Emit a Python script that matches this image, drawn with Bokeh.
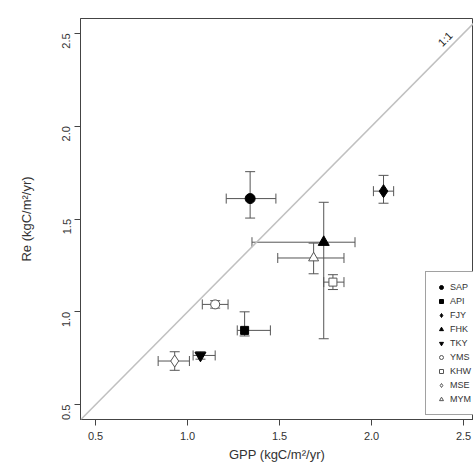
import math
from bokeh.plotting import figure
from bokeh.models import (ColumnDataSource, Whisker, TeeHead, Slope, Label,
                          FixedTicker, Legend, LegendItem, Range1d,
                          NumeralTickFormatter)
from bokeh.embed import file_html
from bokeh.resources import INLINE

sites = ["SAP", "API", "FJY", "FHK", "TKY", "YMS", "KHW", "MSE", "MYM"]
gpp = [1.34, 1.31, 2.065, 1.74, 1.07, 1.15, 1.79, 0.93, 1.685]
re = [1.61, 0.90, 1.65, 1.375, 0.765, 1.04, 1.16, 0.735, 1.29]
gpp_lo = [1.21, 1.27, 2.01, 1.35, 1.03, 1.08, 1.74, 0.84, 1.49]
gpp_hi = [1.48, 1.45, 2.12, 1.91, 1.15, 1.22, 1.85, 1.01, 1.85]
re_lo = [1.505, 0.87, 1.585, 0.855, 0.745, 1.02, 1.12, 0.685, 1.205]
re_hi = [1.755, 1.00, 1.735, 1.59, 0.785, 1.06, 1.20, 0.785, 1.37]
markers = ["circle", "square", "diamond", "triangle", "inverted_triangle",
           "circle", "square", "diamond", "triangle"]
filled = [True, True, True, True, True, False, False, False, False]
sizes = [10, 8, 13, 11, 11, 9, 8, 12, 10]
ticks = [0.5, 1.0, 1.5, 2.0, 2.5]

FONT = "Liberation Sans"

p = figure(width=473, height=473, output_backend="svg", toolbar_location=None,
           x_range=Range1d(0.418, 2.554), y_range=Range1d(0.42, 2.58),
           min_border_left=80, min_border_right=0, min_border_top=18,
           min_border_bottom=54)
p.grid.visible = False
p.outline_line_color = "#444444"
p.outline_line_width = 1

for ax in (p.xaxis[0], p.yaxis[0]):
    ax.ticker = FixedTicker(ticks=ticks)
    ax.formatter = NumeralTickFormatter(format="0.0")
    ax.minor_tick_line_color = None
    ax.major_tick_out = 6
    ax.major_tick_in = 0
    ax.axis_line_color = "#444444"
    ax.major_tick_line_color = "#444444"
    ax.major_label_text_font = FONT
    ax.major_label_text_font_size = "11px"
    ax.major_label_text_color = "#333333"
    ax.axis_label_text_font = FONT
    ax.axis_label_text_font_size = "13px"
    ax.axis_label_text_font_style = "normal"
    ax.axis_label_text_color = "#333333"

p.xaxis[0].axis_label = "GPP (kgC/m²/yr)"
p.yaxis[0].axis_label = "Re (kgC/m²/yr)"
p.yaxis[0].major_label_orientation = math.pi / 2
p.xaxis[0].major_label_standoff = 6
p.xaxis[0].axis_label_standoff = 4
p.yaxis[0].major_label_standoff = 8
p.yaxis[0].axis_label_standoff = 22

p.add_layout(Slope(gradient=1, y_intercept=0, line_color="#c0c0c0", line_width=1.5))
p.add_layout(Label(x=2.40, y=2.47, text="1:1", angle=math.pi / 4,
                   text_font=FONT, text_font_size="11px", text_color="#222222",
                   text_align="center", text_baseline="middle"))

src = ColumnDataSource(dict(site=sites, gpp=gpp, re=re, gpp_lo=gpp_lo,
                            gpp_hi=gpp_hi, re_lo=re_lo, re_hi=re_hi))
ecol = "#555555"
p.add_layout(Whisker(source=src, base="gpp", lower="re_lo", upper="re_hi",
                     dimension="height", level="underlay",
                     line_color=ecol, line_width=1,
                     lower_head=TeeHead(size=10, line_color=ecol, line_width=1),
                     upper_head=TeeHead(size=10, line_color=ecol, line_width=1)))
p.add_layout(Whisker(source=src, base="re", lower="gpp_lo", upper="gpp_hi",
                     dimension="width", level="underlay",
                     line_color=ecol, line_width=1,
                     lower_head=TeeHead(size=10, line_color=ecol, line_width=1),
                     upper_head=TeeHead(size=10, line_color=ecol, line_width=1)))

items = []
for i, s in enumerate(sites):
    r = p.scatter(x=[gpp[i]], y=[re[i]], marker=markers[i], size=sizes[i],
                  fill_color="black" if filled[i] else "white",
                  line_color="black" if filled[i] else "#555555", line_width=1)
    items.append(LegendItem(label=s, renderers=[r]))

leg = Legend(items=items, location=(345, 4), border_line_color="#444444",
             border_line_width=1, background_fill_alpha=1,
             label_text_font=FONT, label_text_font_size="9px",
             label_text_color="#333333", glyph_height=10, glyph_width=10,
             label_height=10, spacing=4, padding=10, margin=0,
             label_standoff=4)
p.add_layout(leg)

open("out.html", "w").write(file_html(p, INLINE))
